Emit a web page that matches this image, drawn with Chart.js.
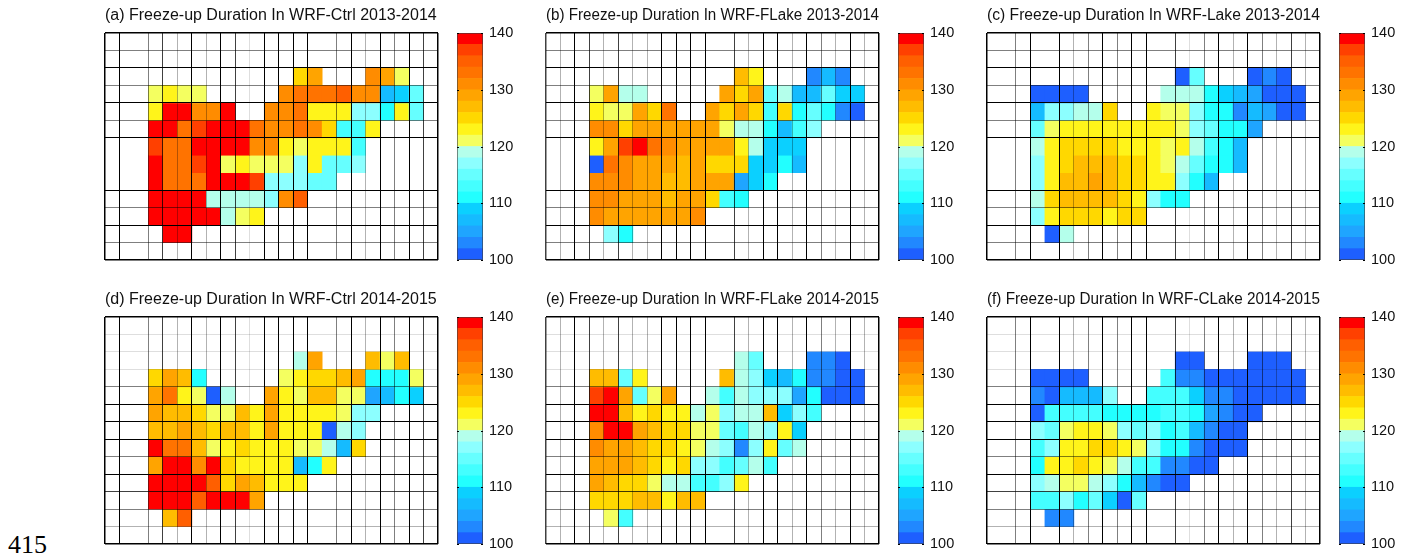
<!DOCTYPE html>
<html>
<head>
<meta charset="utf-8">
<title>Freeze-up Duration</title>
<script src="https://cdn.jsdelivr.net/npm/chart.js@4/dist/chart.umd.min.js"></script>
<style>
  html, body { margin: 0; background: #fff; overflow: hidden; }
  body { width: 1410px; height: 554px; position: relative; }
  canvas { position: absolute; }
  #pagina { position: absolute; left: 8px; top: 532px; font: 26px "Liberation Serif", serif; line-height: 26px; color: #000; }
</style>
</head>
<body>
<div id="pagina">415</div>
<script>
"use strict";

const _ = null;

const titulos = [
  "(a) Freeze-up Duration In WRF-Ctrl 2013-2014",
  "(b) Freeze-up Duration In WRF-FLake 2013-2014",
  "(c) Freeze-up Duration In WRF-Lake 2013-2014",
  "(d) Freeze-up Duration In WRF-Ctrl 2014-2015",
  "(e) Freeze-up Duration In WRF-FLake 2014-2015",
  "(f) Freeze-up Duration In WRF-CLake 2014-2015"
];

const columnas = ["1","2","3","4","5","6","7","8","9","10","11","12","13","14","15","16","17","18","19","20","21","22","23"];
const ticksBarra = [100, 110, 120, 130, 140];
const nivelesBarra = [100,102,104,106,108,110,112,114,116,118,120,122,124,126,128,130,132,134,136,138];

const ctrl1314 = [
  [_,_,_,_,_,_,_,_,_,_,_,_,_,_,_,_,_,_,_,_,_,_,_],
  [_,_,_,_,_,_,_,_,_,_,_,_,_,_,_,_,_,_,_,_,_,_,_],
  [_,_,_,_,_,_,_,_,_,_,_,_,_,125,129,_,_,_,131,129,121,_,_],
  [_,_,_,121,123,121,121,_,_,_,_,_,131,133,133,133,135,131,131,107,109,115,_],
  [_,_,_,123,139,139,131,131,139,_,_,131,131,133,123,123,123,117,117,111,123,115,_],
  [_,_,_,139,139,133,137,139,139,139,133,131,131,133,131,125,113,113,123,_,_,_,_],
  [_,_,_,137,133,133,139,139,139,139,131,131,123,121,123,123,123,113,_,_,_,_,_],
  [_,_,_,139,133,133,137,139,121,123,121,121,121,117,123,115,115,117,_,_,_,_,_],
  [_,_,_,139,133,133,133,139,139,139,137,117,117,117,115,115,_,_,_,_,_,_,_],
  [_,_,_,139,139,139,139,119,119,119,119,117,131,135,_,_,_,_,_,_,_,_,_],
  [_,_,_,139,139,139,139,139,119,121,123,_,_,_,_,_,_,_,_,_,_,_,_],
  [_,_,_,_,139,139,_,_,_,_,_,_,_,_,_,_,_,_,_,_,_,_,_],
  [_,_,_,_,_,_,_,_,_,_,_,_,_,_,_,_,_,_,_,_,_,_,_]
];

const flake1314 = [
  [_,_,_,_,_,_,_,_,_,_,_,_,_,_,_,_,_,_,_,_,_,_,_],
  [_,_,_,_,_,_,_,_,_,_,_,_,_,_,_,_,_,_,_,_,_,_,_],
  [_,_,_,_,_,_,_,_,_,_,_,_,_,127,123,_,_,_,103,107,103,_,_],
  [_,_,_,121,129,119,119,_,_,_,_,_,129,125,129,115,119,107,107,115,109,109,_],
  [_,_,_,123,121,121,129,125,133,_,_,129,125,129,125,113,125,111,115,111,103,101,_],
  [_,_,_,131,131,125,129,129,129,129,129,129,121,119,119,111,107,113,117,_,_,_,_],
  [_,_,_,123,129,137,139,133,131,129,129,129,129,123,119,109,109,109,_,_,_,_,_],
  [_,_,_,101,133,131,129,129,129,127,129,125,125,125,109,109,111,107,_,_,_,_,_],
  [_,_,_,131,131,131,129,129,127,127,129,129,129,105,109,111,_,_,_,_,_,_,_],
  [_,_,_,131,131,129,129,129,127,129,129,125,113,111,_,_,_,_,_,_,_,_,_],
  [_,_,_,131,129,129,129,129,129,129,131,_,_,_,_,_,_,_,_,_,_,_,_],
  [_,_,_,_,117,111,_,_,_,_,_,_,_,_,_,_,_,_,_,_,_,_,_],
  [_,_,_,_,_,_,_,_,_,_,_,_,_,_,_,_,_,_,_,_,_,_,_]
];

const lake1314 = [
  [_,_,_,_,_,_,_,_,_,_,_,_,_,_,_,_,_,_,_,_,_,_,_],
  [_,_,_,_,_,_,_,_,_,_,_,_,_,_,_,_,_,_,_,_,_,_,_],
  [_,_,_,_,_,_,_,_,_,_,_,_,_,101,115,_,_,_,101,103,101,_,_],
  [_,_,_,101,101,101,101,_,_,_,_,_,119,119,119,111,109,107,105,101,101,101,_],
  [_,_,_,107,117,117,119,119,125,_,_,123,121,121,117,111,111,103,107,105,101,101,_],
  [_,_,_,115,121,123,123,123,123,123,123,123,123,121,117,115,111,111,105,_,_,_,_],
  [_,_,_,119,123,125,125,125,125,123,123,123,121,123,119,113,111,107,_,_,_,_,_],
  [_,_,_,117,123,125,127,127,127,125,125,123,121,119,115,111,111,107,_,_,_,_,_],
  [_,_,_,117,123,127,127,129,127,125,125,123,123,117,111,107,_,_,_,_,_,_,_],
  [_,_,_,119,125,127,127,127,127,125,123,117,111,111,_,_,_,_,_,_,_,_,_],
  [_,_,_,117,123,125,125,125,123,125,125,_,_,_,_,_,_,_,_,_,_,_,_],
  [_,_,_,_,101,119,_,_,_,_,_,_,_,_,_,_,_,_,_,_,_,_,_],
  [_,_,_,_,_,_,_,_,_,_,_,_,_,_,_,_,_,_,_,_,_,_,_]
];

const ctrl1415 = [
  [_,_,_,_,_,_,_,_,_,_,_,_,_,_,_,_,_,_,_,_,_,_,_],
  [_,_,_,_,_,_,_,_,_,_,_,_,_,_,_,_,_,_,_,_,_,_,_],
  [_,_,_,_,_,_,_,_,_,_,_,_,_,119,129,_,_,_,127,121,127,_,_],
  [_,_,_,125,129,127,111,_,_,_,_,_,121,123,125,125,127,129,111,111,111,121,_],
  [_,_,_,129,133,123,121,101,119,_,_,129,123,121,127,127,121,121,105,107,111,109,_],
  [_,_,_,129,127,127,125,121,121,127,123,129,123,123,123,123,121,117,117,_,_,_,_],
  [_,_,_,127,127,129,127,125,127,127,123,129,123,123,123,101,119,117,_,_,_,_,_],
  [_,_,_,139,133,133,127,121,123,125,123,123,123,121,121,119,107,125,_,_,_,_,_],
  [_,_,_,129,139,139,131,139,125,123,123,123,123,107,111,123,_,_,_,_,_,_,_],
  [_,_,_,139,139,139,139,135,125,129,127,123,123,123,_,_,_,_,_,_,_,_,_],
  [_,_,_,139,139,139,135,139,139,139,129,_,_,_,_,_,_,_,_,_,_,_,_],
  [_,_,_,_,127,135,_,_,_,_,_,_,_,_,_,_,_,_,_,_,_,_,_],
  [_,_,_,_,_,_,_,_,_,_,_,_,_,_,_,_,_,_,_,_,_,_,_]
];

const flake1415 = [
  [_,_,_,_,_,_,_,_,_,_,_,_,_,_,_,_,_,_,_,_,_,_,_],
  [_,_,_,_,_,_,_,_,_,_,_,_,_,_,_,_,_,_,_,_,_,_,_],
  [_,_,_,_,_,_,_,_,_,_,_,_,_,119,115,_,_,_,103,103,101,_,_],
  [_,_,_,127,127,115,123,_,_,_,_,_,127,119,117,109,107,111,103,103,101,101,_],
  [_,_,_,137,139,129,115,121,129,_,_,119,113,119,117,117,117,105,111,101,101,101,_],
  [_,_,_,139,139,127,123,125,123,123,119,121,117,119,119,127,109,117,113,_,_,_,_],
  [_,_,_,131,139,139,129,127,125,125,121,121,115,113,119,117,123,109,_,_,_,_,_],
  [_,_,_,131,129,129,127,125,125,123,121,119,117,103,117,123,115,119,_,_,_,_,_],
  [_,_,_,129,129,129,127,125,123,125,117,117,113,115,119,113,_,_,_,_,_,_,_],
  [_,_,_,129,127,125,125,121,119,119,113,113,117,123,_,_,_,_,_,_,_,_,_],
  [_,_,_,125,125,125,127,127,123,127,127,_,_,_,_,_,_,_,_,_,_,_,_],
  [_,_,_,_,121,113,_,_,_,_,_,_,_,_,_,_,_,_,_,_,_,_,_],
  [_,_,_,_,_,_,_,_,_,_,_,_,_,_,_,_,_,_,_,_,_,_,_]
];

const clake1415 = [
  [_,_,_,_,_,_,_,_,_,_,_,_,_,_,_,_,_,_,_,_,_,_,_],
  [_,_,_,_,_,_,_,_,_,_,_,_,_,_,_,_,_,_,_,_,_,_,_],
  [_,_,_,_,_,_,_,_,_,_,_,_,_,101,101,_,_,_,101,101,101,_,_],
  [_,_,_,101,101,101,101,_,_,_,_,_,113,103,103,101,101,101,101,101,101,101,_],
  [_,_,_,103,101,107,107,107,117,_,_,113,113,113,109,103,103,101,101,101,101,101,_],
  [_,_,_,101,113,113,113,113,111,111,111,111,113,113,111,105,103,101,101,_,_,_,_],
  [_,_,_,117,115,121,123,123,121,117,115,117,111,113,107,103,101,101,_,_,_,_,_],
  [_,_,_,113,117,123,123,125,125,123,121,117,111,111,103,101,101,101,_,_,_,_,_],
  [_,_,_,111,123,123,125,123,121,119,113,113,103,103,101,101,_,_,_,_,_,_,_],
  [_,_,_,117,119,121,121,119,117,111,107,103,101,101,_,_,_,_,_,_,_,_,_],
  [_,_,_,113,113,117,111,115,109,101,115,_,_,_,_,_,_,_,_,_,_,_,_],
  [_,_,_,_,103,103,_,_,_,_,_,_,_,_,_,_,_,_,_,_,_,_,_],
  [_,_,_,_,_,_,_,_,_,_,_,_,_,_,_,_,_,_,_,_,_,_,_]
];

const paneles = [ctrl1314, flake1314, lake1314, ctrl1415, flake1415, clake1415];

// =============================================================
// colores y posiciones
// =============================================================
const paleta = [
  "#1e5fff", "#2188ff", "#1fa5ff", "#15bbff", "#0bd0ff",
  "#22ffff", "#44ffff", "#66ffff", "#8cffff", "#b4ffeb",
  "#f4ff60", "#fff41a", "#ffd800", "#ffbc00", "#ffa400",
  "#ff8c00", "#ff7300", "#ff5f00", "#ff4000", "#ff0000"
];

const colorDe = v => paleta[Math.min(19, Math.floor((v - 100) / 2))];

// las lineas de la rejilla salen con tonos distintos en el original
const K = "#000", D = "rgba(0,0,0,.75)", G = "rgba(0,0,0,.5)", L = "rgba(0,0,0,.3)", VL = "rgba(0,0,0,.13)", NO = "rgba(0,0,0,0)";
const rejillaVert = [
  [K, K, NO, G, D, L, K, L, K, D, VL, K, K, K, K, NO, G, K, L, K, G, K, D, K],
  [D, L, K, D, L, D, L, L, K, K, K, K, NO, D, L, K, K, L, K, G, L, K, L, K],
  [K, NO, G, K, NO, K, L, G, K, G, K, K, NO, D, VL, G, K, L, K, G, L, D, L, K]
];
const rejillaHoriz = [
  [K, G, K, G, K, G, K, NO, NO, K, G, K, G, K],
  [K, VL, VL, VL, G, K, K, K, G, K, D, G, L, K]
];

const izquierdas = [105, 546, 987];
const barras = [457, 898, 1339];
const superiores = [33, 317];
const anchoMapa = 333, altoMapa = 227;

const comun = { responsive: false, animation: false, events: [] };

function crearCanvas(left, top, w, h) {
  const c = document.createElement("canvas");
  c.width = w;
  c.height = h;
  c.style.left = left + "px";
  c.style.top = top + "px";
  c.style.width = w + "px";
  c.style.height = h + "px";
  document.body.appendChild(c);
  return c;
}

function crearMapa(i) {
  const fila = Math.floor(i / 3), col = i % 3;
  const valores = paneles[i];
  const canvas = crearCanvas(izquierdas[col] - 1, superiores[fila] - 32, anchoMapa + 2, altoMapa + 33);
  new Chart(canvas, {
    type: "bar",
    data: {
      labels: columnas,
      datasets: valores.map((f, r) => ({
        data: f.map(v => v === null ? null : [r, r + 1]),
        backgroundColor: f.map(v => v === null ? NO : colorDe(v)),
        borderWidth: 0,
        grouped: false,
        barPercentage: 1,
        categoryPercentage: 1
      }))
    },
    options: {
      ...comun,
      layout: { padding: { left: 1, right: 1, bottom: 1 } },
      plugins: {
        legend: { display: false },
        tooltip: { enabled: false },
        title: {
          display: true,
          text: titulos[i],
          align: "start",
          color: "#111",
          font: { family: "Liberation Sans, Arial, sans-serif", size: 16, weight: "normal", lineHeight: 1 },
          padding: { top: 7, bottom: 9 }
        }
      },
      scales: {
        x: {
          type: "category",
          afterFit: s => { s.height = 0; },
          ticks: { display: false },
          border: { display: false },
          grid: {
            z: 1,
            offset: true,
            drawTicks: false,
            color: c => rejillaVert[col][c.index === undefined ? 23 : c.index],
            lineWidth: c => (c.index === undefined || c.index === 0) ? 1.5 : 1
          }
        },
        y: {
          type: "linear",
          reverse: true,
          min: 0,
          max: 13,
          afterFit: s => { s.width = 0; },
          ticks: { display: false, stepSize: 1 },
          border: { display: false },
          grid: {
            z: 1,
            drawTicks: false,
            // con reverse los ticks vienen al reves: se busca por valor
            color: c => rejillaHoriz[fila][c.tick ? c.tick.value : 0],
            lineWidth: c => (c.tick && c.tick.value > 0 && c.tick.value < 13) ? 1 : 1.5
          }
        }
      }
    }
  });
}

function crearBarra(i) {
  const fila = Math.floor(i / 3), col = i % 3;
  // el eje reserva medio rotulo mas su padding arriba y abajo
  const canvas = crearCanvas(barras[col], superiores[fila] - 15, 26 + 42, altoMapa + 31);
  new Chart(canvas, {
    type: "bar",
    data: {
      labels: [""],
      datasets: nivelesBarra.map(n => ({
        data: [[n, n + 2]],
        backgroundColor: colorDe(n),
        borderWidth: 0,
        grouped: false,
        barPercentage: 1,
        categoryPercentage: 1
      }))
    },
    options: {
      ...comun,
      layout: { padding: { top: 15, bottom: 16 } },
      plugins: { legend: { display: false }, tooltip: { enabled: false }, title: { display: false } },
      scales: {
        x: { afterFit: s => { s.height = 0; }, ticks: { display: false }, grid: { display: false }, border: { display: false } },
        y: {
          type: "linear",
          position: "right",
          min: 100,
          max: 140,
          afterFit: s => { s.width = 42; },
          afterBuildTicks: s => { s.ticks = ticksBarra.map(v => ({ value: v })); },
          grid: { display: false, drawTicks: false },
          border: { display: false },
          ticks: {
            color: "#111",
            padding: 6,
            font: { family: "Liberation Sans, Arial, sans-serif", size: 14.5 }
          }
        }
      }
    },
    plugins: [{
      id: "marcoBarra",
      afterDatasetsDraw(chart) {
        const { ctx, chartArea: a, scales } = chart;
        ctx.save();
        ctx.strokeStyle = "rgba(60,60,60,0.6)";
        ctx.lineWidth = 1;
        ctx.strokeRect(a.left + 0.5, a.top + 0.5, a.width - 1, a.height - 1);
        ctx.strokeStyle = "#000";
        ticksBarra.forEach(v => {
          const y = Math.round(scales.y.getPixelForValue(v)) + 0.5;
          ctx.beginPath();
          ctx.moveTo(a.left, y);
          ctx.lineTo(a.left + 2, y);
          ctx.moveTo(a.right - 2, y);
          ctx.lineTo(a.right, y);
          ctx.stroke();
        });
        ctx.restore();
      }
    }]
  });
}

document.addEventListener("DOMContentLoaded", () => {
  paneles.forEach((_p, i) => {
    crearMapa(i);
    crearBarra(i);
  });
});
</script>
</body>
</html>
